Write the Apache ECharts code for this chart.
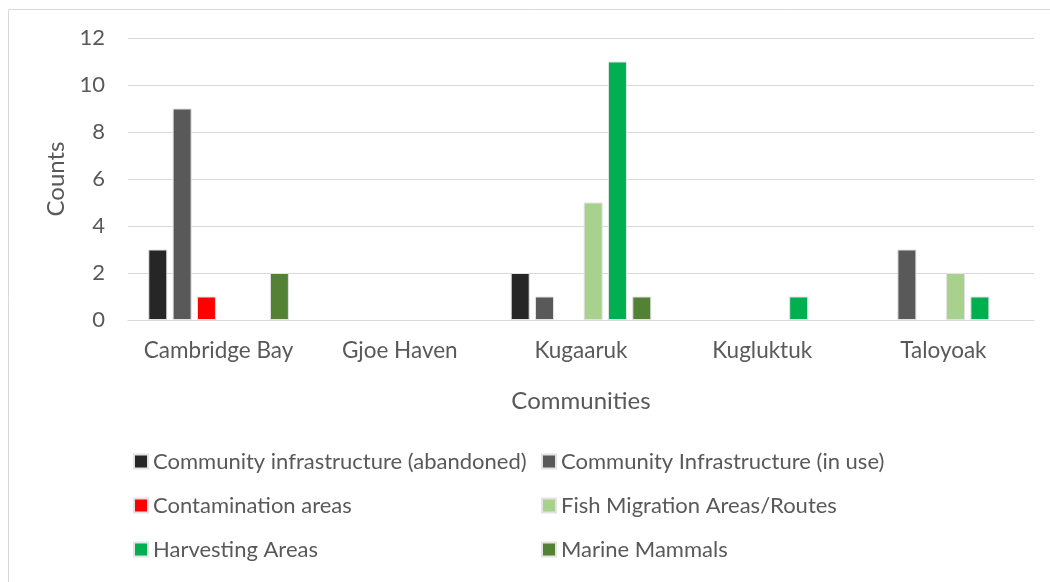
<!DOCTYPE html>
<html>
<head>
<meta charset="utf-8">
<script src="https://cdn.jsdelivr.net/npm/echarts@6/dist/echarts.min.js"></script>
<style>
  html, body { margin: 0; padding: 0; background: #fff; }
  #chart { width: 1050px; height: 582px; }
</style>
</head>
<body>
<div id="chart"></div>
<script>
// communities along the x axis
const communities = ['Cambridge Bay', 'Gjoe Haven', 'Kugaaruk', 'Kugluktuk', 'Taloyoak'];

// counts per category (null = no bar)
const infraAbandoned = [3, null, 2, null, null];
const infraInUse = [9, null, 1, null, 3];
const contamination = [1, null, null, null, null];
const fishMigration = [null, null, 5, null, 2];
const harvesting = [null, null, 11, 1, 1];
const marineMammals = [2, null, 1, null, null];

const seriesNames = [
  'Community infrastructure (abandoned)',
  'Community Infrastructure (in use)',
  'Contamination areas',
  'Fish Migration Areas/Routes',
  'Harvesting Areas',
  'Marine Mammals'
];
const seriesData = [infraAbandoned, infraInUse, contamination, fishMigration, harvesting, marineMammals];
const colors = ['#262626', '#595959', '#FF0000', '#A9D18E', '#00B050', '#548235'];

const font = 'Lato, "Liberation Sans", sans-serif';
const textColor = '#595959';

let myChart = echarts.init(document.getElementById('chart'));

let option = {
  animation: false,
  color: colors,
  textStyle: { fontFamily: font },
  graphic: [
    {
      // outer chart frame (only top and left edges visible)
      type: 'rect',
      shape: { x: 8.5, y: 9.5, width: 1200, height: 800 },
      style: { fill: 'none', stroke: '#d9d9d9', lineWidth: 1 },
      silent: true
    }
  ],
  grid: { left: 128, right: 16, top: 38, bottom: 262 },
  legend: {
    left: 128,
    top: 438,
    width: 900,
    itemWidth: 14,
    itemHeight: 14,
    itemGap: 7,
    icon: 'rect',
    textStyle: {
      fontFamily: font,
      fontSize: 22,
      color: textColor,
      width: 381,
      lineHeight: 37
    },
    data: seriesNames
  },
  xAxis: {
    type: 'category',
    data: communities,
    name: 'Communities',
    nameLocation: 'middle',
    nameGap: 69,
    nameTextStyle: { fontFamily: font, fontSize: 24, color: textColor },
    axisLine: { lineStyle: { color: '#d9d9d9', width: 1 } },
    axisTick: { show: false },
    axisLabel: { interval: 0, fontFamily: font, fontSize: 22.5, color: textColor, margin: 19 }
  },
  yAxis: {
    type: 'value',
    min: 0,
    max: 12,
    interval: 2,
    name: 'Counts',
    nameLocation: 'middle',
    nameGap: 53,
    nameTextStyle: { fontFamily: font, fontSize: 24, color: textColor },
    axisLine: { show: false },
    axisTick: { show: false },
    splitLine: { lineStyle: { color: '#d9d9d9', width: 1 } },
    axisLabel: { fontFamily: font, fontSize: 22, color: textColor, margin: 23 }
  },
  series: seriesNames.map((name, i) => ({
    name: name,
    type: 'bar',
    data: seriesData[i],
    barWidth: 19,
    barGap: '28%',
    itemStyle: { borderColor: '#e3e3e3', borderWidth: 1 }
  }))
};

option && myChart.setOption(option);
</script>
</body>
</html>
